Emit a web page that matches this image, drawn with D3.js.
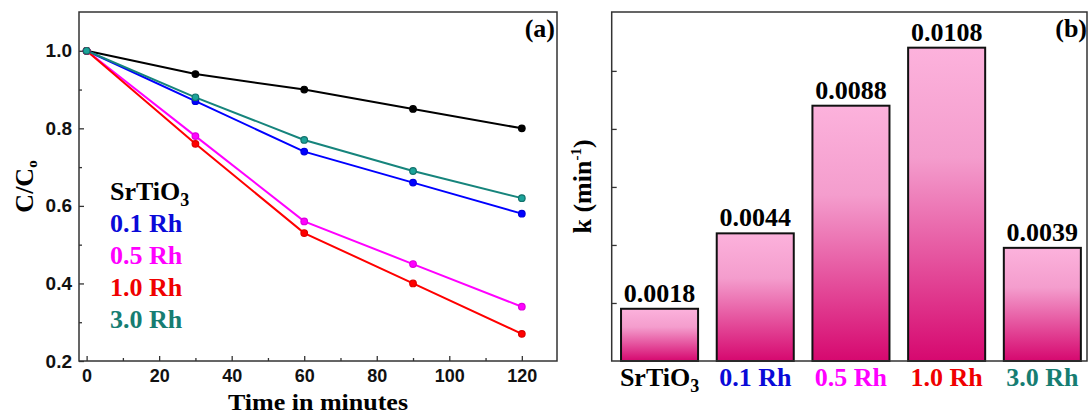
<!DOCTYPE html>
<html>
<head>
<meta charset="utf-8">
<script src="https://cdn.jsdelivr.net/npm/d3@7"></script>
<style>
  html, body { margin: 0; padding: 0; background: #fff; }
  svg { display: block; }
  .serif { font-family: "Liberation Serif", "Times New Roman", serif; font-weight: bold; }
  .sans { font-family: "Liberation Sans", Arial, sans-serif; font-weight: bold; }
</style>
</head>
<body>
<div id="chart"></div>
<script>
// -------- Data --------
const times = [0, 30, 60, 90, 120];
const seriesNames = ["SrTiO3", "0.1 Rh", "0.5 Rh", "1.0 Rh", "3.0 Rh"];
const seriesColors = ["#000000", "#0000ff", "#ff00ff", "#ff0000", "#16847c"];
const labelColors = ["#000000", "#0a0ad8", "#ff00ff", "#f00000", "#167d72"];

const srtio3 = [1.0, 0.94, 0.90, 0.85, 0.80];
const rh01 = [1.0, 0.87, 0.74, 0.66, 0.58];
const rh05 = [1.0, 0.78, 0.56, 0.45, 0.34];
const rh10 = [1.0, 0.76, 0.53, 0.40, 0.27];
const rh30 = [1.0, 0.88, 0.77, 0.69, 0.62];
const seriesValues = [srtio3, rh01, rh05, rh10, rh30];

const xMajorTicks = [0, 20, 40, 60, 80, 100, 120];
const xMinorTicks = [10, 30, 50, 70, 90, 110];
const yMajorTicks = [0.2, 0.4, 0.6, 0.8, 1.0];
const yMinorTicks = [0.3, 0.5, 0.7, 0.9];

const kValues = [0.0018, 0.0044, 0.0088, 0.0108, 0.0039];
const kLabels = ["0.0018", "0.0044", "0.0088", "0.0108", "0.0039"];
const kTicks = [0.002, 0.004, 0.006, 0.008, 0.010];

const W = 1088, H = 416;
const FS = 26;     // serif text size
const TS = 19;     // tick label size
const svg = d3.select("#chart").append("svg").attr("width", W).attr("height", H);

// -------- Panel (a): line chart --------
const pa = { left: 79, top: 12, right: 557, bottom: 361 };
const x = d3.scaleLinear().domain([-2.1, 129.7]).range([pa.left, pa.right]);
const y = d3.scaleLinear().domain([0.2, 1.1]).range([pa.bottom, pa.top]);

const ga = svg.append("g");

// minor ticks
ga.append("g").attr("transform", `translate(0,${pa.bottom})`)
  .call(d3.axisBottom(x).tickValues(xMinorTicks).tickSize(-3).tickFormat(""))
  .call(g => g.select(".domain").remove())
  .call(g => g.selectAll("line").attr("stroke", "#333").attr("stroke-width", 1.3));
ga.append("g").attr("transform", `translate(${pa.left},0)`)
  .call(d3.axisLeft(y).tickValues(yMinorTicks).tickSize(-3).tickFormat(""))
  .call(g => g.select(".domain").remove())
  .call(g => g.selectAll("line").attr("stroke", "#333").attr("stroke-width", 1.3));

// major ticks
ga.append("g").attr("transform", `translate(0,${pa.bottom})`)
  .call(d3.axisBottom(x).tickValues(xMajorTicks).tickSize(-5).tickPadding(8).tickFormat(d3.format("d")))
  .call(g => g.select(".domain").remove())
  .call(g => g.selectAll("line").attr("stroke", "#333").attr("stroke-width", 1.3))
  .call(g => g.selectAll("text").attr("class", "sans").attr("font-size", 18).attr("fill", "#111"));
ga.append("g").attr("transform", `translate(${pa.left},0)`)
  .call(d3.axisLeft(y).tickValues(yMajorTicks).tickSize(-5).tickPadding(7).tickFormat(d3.format(".1f")))
  .call(g => g.select(".domain").remove())
  .call(g => g.selectAll("line").attr("stroke", "#333").attr("stroke-width", 1.3))
  .call(g => g.selectAll("text").attr("class", "sans").attr("font-size", TS).attr("fill", "#111"));

// frame
ga.append("rect")
  .attr("x", pa.left).attr("y", pa.top)
  .attr("width", pa.right - pa.left).attr("height", pa.bottom - pa.top)
  .attr("fill", "none").attr("stroke", "#333").attr("stroke-width", 1.5);

// lines + markers
const line = d3.line().x((d, i) => x(times[i])).y(d => y(d));
seriesValues.forEach((vals, si) => {
  ga.append("path")
    .datum(vals)
    .attr("d", line)
    .attr("fill", "none")
    .attr("stroke", seriesColors[si])
    .attr("stroke-width", 2);
});
seriesValues.forEach((vals, si) => {
  const c = d3.color(seriesColors[si]);
  ga.selectAll(null)
    .data(vals)
    .join("circle")
    .attr("cx", (d, i) => x(times[i]))
    .attr("cy", d => y(d))
    .attr("r", 3.3)
    .attr("fill", c.brighter(0.6))
    .attr("stroke", c.darker(0.4))
    .attr("stroke-width", 1.2);
});

// legend (text only)
const legend = ga.append("g");
seriesNames.forEach((name, i) => {
  const t = legend.append("text")
    .attr("class", "serif")
    .attr("x", 110)
    .attr("y", 200 + i * 32)
    .attr("font-size", FS)
    .attr("fill", labelColors[i]);
  if (name === "SrTiO3") {
    t.append("tspan").text("SrTiO");
    t.append("tspan").attr("font-size", 18).attr("dy", 6).text("3");
  } else {
    t.text(name);
  }
});

// axis titles
ga.append("text")
  .attr("class", "serif")
  .attr("font-size", 24)
  .attr("text-anchor", "middle")
  .attr("x", (pa.left + pa.right) / 2)
  .attr("y", 410)
  .attr("textLength", 180)
  .attr("lengthAdjust", "spacingAndGlyphs")
  .text("Time in minutes");

const cLabel = ga.append("text")
  .attr("class", "serif")
  .attr("font-size", FS)
  .attr("text-anchor", "middle")
  .attr("transform", `translate(33,${(pa.top + pa.bottom) / 2}) rotate(-90)`);
cLabel.append("tspan").text("C/C");
cLabel.append("tspan").attr("font-size", 15).attr("dy", 4).text("o");

ga.append("text")
  .attr("class", "serif")
  .attr("font-size", FS)
  .attr("text-anchor", "end")
  .attr("x", pa.right - 2)
  .attr("y", 37)
  .text("(a)");

// -------- Panel (b): bar chart --------
const pb = { left: 611.7, top: 12, right: 1087, bottom: 361 };
const xb = d3.scaleBand()
  .domain(seriesNames)
  .range([pb.left, pb.left + 5 * 95.7])
  .paddingInner(0.195)
  .paddingOuter(0.0975);
const yb = d3.scaleLinear().domain([0, 0.01203]).range([pb.bottom, pb.top]);

const gb = svg.append("g");

const defs = svg.append("defs");
const grad = defs.append("linearGradient")
  .attr("id", "barGrad")
  .attr("x1", 0).attr("y1", 0).attr("x2", 0).attr("y2", 1);
grad.append("stop").attr("offset", "0%").attr("stop-color", "#fcb2dc");
grad.append("stop").attr("offset", "35%").attr("stop-color", "#f49dcd");
grad.append("stop").attr("offset", "100%").attr("stop-color", "#d6086f");

gb.append("g").attr("transform", `translate(${pb.left},0)`)
  .call(d3.axisLeft(yb).tickValues(kTicks).tickSize(-5).tickFormat(""))
  .call(g => g.select(".domain").remove())
  .call(g => g.selectAll("line").attr("stroke", "#333").attr("stroke-width", 1.3));

gb.selectAll("rect.bar")
  .data(kValues)
  .join("rect")
  .attr("class", "bar")
  .attr("x", (d, i) => xb(seriesNames[i]))
  .attr("y", d => yb(d))
  .attr("width", xb.bandwidth())
  .attr("height", d => yb(0) - yb(d))
  .attr("fill", "url(#barGrad)")
  .attr("stroke", "#111")
  .attr("stroke-width", 2);

gb.selectAll("text.val")
  .data(kValues)
  .join("text")
  .attr("class", "serif val")
  .attr("font-size", FS)
  .attr("text-anchor", "middle")
  .attr("x", (d, i) => xb(seriesNames[i]) + xb.bandwidth() / 2)
  .attr("y", d => yb(d) - 7)
  .text((d, i) => kLabels[i]);

// category labels
seriesNames.forEach((name, i) => {
  const t = gb.append("text")
    .attr("class", "serif")
    .attr("font-size", FS)
    .attr("text-anchor", "middle")
    .attr("x", xb(name) + xb.bandwidth() / 2)
    .attr("y", 386)
    .attr("fill", labelColors[i]);
  if (name === "SrTiO3") {
    t.append("tspan").text("SrTiO");
    t.append("tspan").attr("font-size", 18).attr("dy", 6).text("3");
  } else {
    t.text(name);
  }
});

// frame
gb.append("rect")
  .attr("x", pb.left).attr("y", pb.top)
  .attr("width", pb.right - pb.left).attr("height", pb.bottom - pb.top)
  .attr("fill", "none").attr("stroke", "#333").attr("stroke-width", 1.5);

const kLabel = gb.append("text")
  .attr("class", "serif")
  .attr("font-size", FS)
  .attr("text-anchor", "middle")
  .attr("transform", `translate(591,${(pb.top + pb.bottom) / 2}) rotate(-90)`);
kLabel.append("tspan").text("k (min");
kLabel.append("tspan").attr("font-size", 15).attr("dy", -10).text("-1");
kLabel.append("tspan").attr("dy", 10).text(")");

gb.append("text")
  .attr("class", "serif")
  .attr("font-size", FS)
  .attr("text-anchor", "end")
  .attr("x", pb.right)
  .attr("y", 37)
  .text("(b)");
</script>
</body>
</html>
